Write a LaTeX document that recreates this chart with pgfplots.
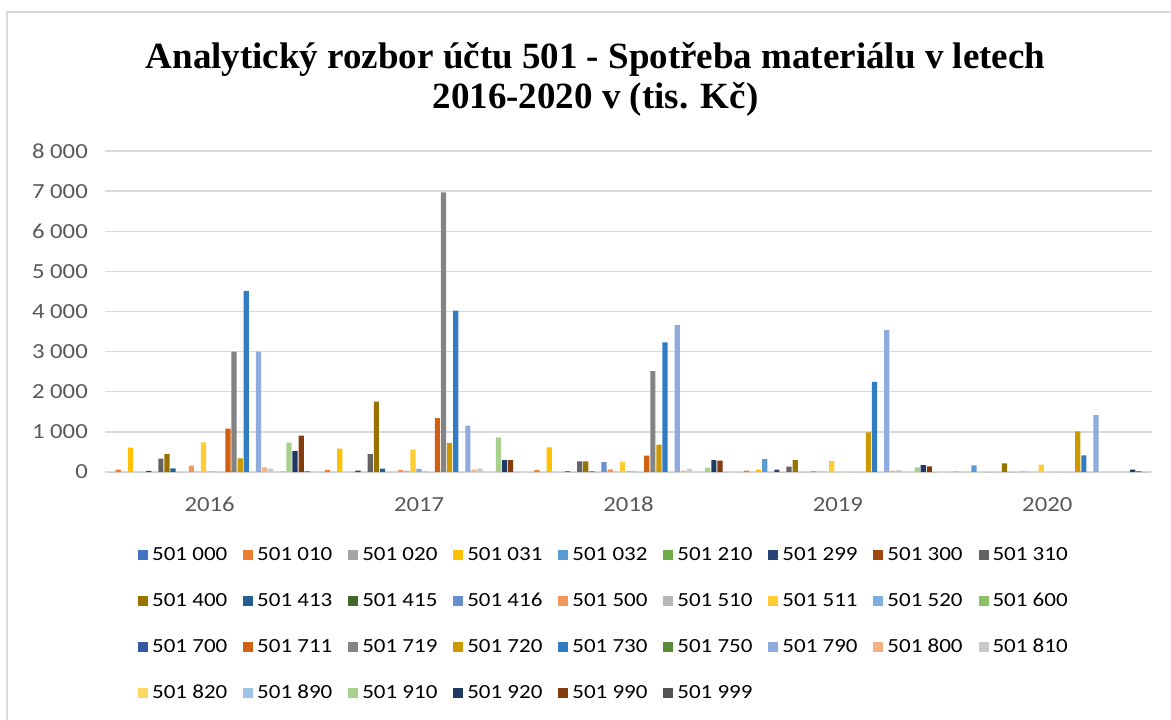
\documentclass[border=0pt]{standalone}
\usepackage{pgfplots}
\pgfplotsset{compat=1.18}
\usepackage{fontspec}
\setmainfont{Carlito}[FakeStretch=1.15]
\newfontfamily\titlefont{Liberation Serif}
\definecolor{gridc}{HTML}{D9D9D9}
\definecolor{labc}{HTML}{595959}
\definecolor{c00}{HTML}{4472C4}\definecolor{c01}{HTML}{ED7D31}\definecolor{c02}{HTML}{A5A5A5}
\definecolor{c03}{HTML}{FFC000}\definecolor{c04}{HTML}{5B9BD5}\definecolor{c05}{HTML}{70AD47}
\definecolor{c06}{HTML}{264478}\definecolor{c07}{HTML}{9E480E}\definecolor{c08}{HTML}{636363}
\definecolor{c09}{HTML}{997300}\definecolor{c10}{HTML}{255E91}\definecolor{c11}{HTML}{43682B}
\definecolor{c12}{HTML}{698ED0}\definecolor{c13}{HTML}{F1975A}\definecolor{c14}{HTML}{B7B7B7}
\definecolor{c15}{HTML}{FFCD33}\definecolor{c16}{HTML}{7CAFDD}\definecolor{c17}{HTML}{8CC168}
\definecolor{c18}{HTML}{335AA1}\definecolor{c19}{HTML}{D26012}\definecolor{c20}{HTML}{848484}
\definecolor{c21}{HTML}{CC9A00}\definecolor{c22}{HTML}{327DC2}\definecolor{c23}{HTML}{5A8A39}
\definecolor{c24}{HTML}{8FAADC}\definecolor{c25}{HTML}{F4B183}\definecolor{c26}{HTML}{C9C9C9}
\definecolor{c27}{HTML}{FFD966}\definecolor{c28}{HTML}{9DC3E6}\definecolor{c29}{HTML}{A9D18E}
\definecolor{c30}{HTML}{203864}\definecolor{c31}{HTML}{843C0C}\definecolor{c32}{HTML}{525252}
\pgfplotsset{sq/.style={fill=#1, draw=none, legend image code/.code={\fill[#1] (0pt,-5pt) rectangle (10pt,5pt);}}}
\begin{document}
\begin{tikzpicture}
\useasboundingbox (0pt,0pt) rectangle (1171pt,-720pt);
\fill[white] (0pt,0pt) rectangle (1171pt,-720pt);
\draw[gridc, line width=1.5pt] (7pt,-720pt) -- (7pt,-12pt) -- (1171pt,-12pt);
\node[align=center, font=\titlefont\bfseries\fontsize{37}{40}\selectfont, anchor=center] at (595.5pt,-79pt)
  {Analytický rozbor účtu 501 - Spotřeba materiálu v letech\\2016-2020 v (tis. Kč)};
\begin{axis}[
  at={(105pt,-472pt)}, anchor=south west,
  scale only axis, width=1047pt, height=321pt,
  xmin=-0.5, xmax=4.5, ymin=0, ymax=8000,
  ybar=0.9pt, bar width=5.2pt,
  xtick={0,1,2,3,4}, xticklabels={2016,2017,2018,2019,2020},
  ytick={0,1000,...,8000},
  yticklabels={0,{1 000},{2 000},{3 000},{4 000},{5 000},{6 000},{7 000},{8 000}},
  major tick length=0pt,
  axis line style={draw=none},
  ymajorgrids, grid style={draw=gridc, line width=1.4pt},
  tick label style={font=\fontsize{21.5}{25}\selectfont, color=labc},
  yticklabel style={anchor=east, inner sep=0pt, xshift=-17pt},
  xticklabel style={anchor=north, inner sep=0pt, yshift=-25pt},
  legend columns=9,
  legend cell align=left,
  legend style={at={(0.0315,-0.2305)}, anchor=north west, draw=none, fill=none,
    inner sep=0pt, font=\fontsize{20}{24}\selectfont, text=black, row sep=28pt,
    nodes={inner sep=0pt, text height=14pt, text depth=4pt},
    /tikz/every odd column/.append style={column sep=4pt},
    /tikz/every even column/.append style={column sep=15.9pt}},
]
\addplot[sq=c00] coordinates {(0,0)(1,0)(2,0)(3,0)(4,0)};
\addplot[sq=c01] coordinates {(0,60)(1,50)(2,50)(3,33)(4,10)};
\addplot[sq=c02] coordinates {(0,0)(1,0)(2,0)(3,0)(4,0)};
\addplot[sq=c03] coordinates {(0,606)(1,581)(2,614)(3,58)(4,0)};
\addplot[sq=c04] coordinates {(0,0)(1,0)(2,0)(3,324)(4,166)};
\addplot[sq=c05] coordinates {(0,0)(1,0)(2,0)(3,0)(4,0)};
\addplot[sq=c06] coordinates {(0,30)(1,33)(2,17)(3,58)(4,0)};
\addplot[sq=c07] coordinates {(0,0)(1,0)(2,0)(3,0)(4,0)};
\addplot[sq=c08] coordinates {(0,332)(1,448)(2,266)(3,133)(4,0)};
\addplot[sq=c09] coordinates {(0,448)(1,1751)(2,266)(3,299)(4,216)};
\addplot[sq=c10] coordinates {(0,91)(1,83)(2,17)(3,0)(4,0)};
\addplot[sq=c11] coordinates {(0,0)(1,0)(2,0)(3,0)(4,0)};
\addplot[sq=c12] coordinates {(0,0)(1,0)(2,249)(3,17)(4,10)};
\addplot[sq=c13] coordinates {(0,158)(1,50)(2,66)(3,10)(4,0)};
\addplot[sq=c14] coordinates {(0,10)(1,33)(2,10)(3,0)(4,0)};
\addplot[sq=c15] coordinates {(0,739)(1,556)(2,257)(3,274)(4,183)};
\addplot[sq=c16] coordinates {(0,10)(1,75)(2,15)(3,0)(4,0)};
\addplot[sq=c17] coordinates {(0,10)(1,10)(2,10)(3,0)(4,0)};
\addplot[sq=c18] coordinates {(0,0)(1,0)(2,0)(3,0)(4,0)};
\addplot[sq=c19] coordinates {(0,1079)(1,1344)(2,407)(3,0)(4,0)};
\addplot[sq=c20] coordinates {(0,3000)(1,6971)(2,2515)(3,0)(4,0)};
\addplot[sq=c21] coordinates {(0,340)(1,722)(2,680)(3,988)(4,1012)};
\addplot[sq=c22] coordinates {(0,4515)(1,4025)(2,3228)(3,2249)(4,415)};
\addplot[sq=c23] coordinates {(0,0)(1,0)(2,0)(3,0)(4,0)};
\addplot[sq=c24] coordinates {(0,3000)(1,1154)(2,3660)(3,3535)(4,1419)};
\addplot[sq=c25] coordinates {(0,116)(1,58)(2,33)(3,33)(4,0)};
\addplot[sq=c26] coordinates {(0,83)(1,83)(2,75)(3,50)(4,0)};
\addplot[sq=c27] coordinates {(0,0)(1,0)(2,0)(3,0)(4,0)};
\addplot[sq=c28] coordinates {(0,15)(1,0)(2,0)(3,0)(4,0)};
\addplot[sq=c29] coordinates {(0,730)(1,863)(2,108)(3,116)(4,10)};
\addplot[sq=c30] coordinates {(0,523)(1,299)(2,299)(3,174)(4,58)};
\addplot[sq=c31] coordinates {(0,905)(1,299)(2,282)(3,141)(4,17)};
\addplot[sq=c32] coordinates {(0,15)(1,0)(2,0)(3,0)(4,0)};
\legend{501 000,501 010,501 020,501 031,501 032,501 210,501 299,501 300,501 310,
501 400,501 413,501 415,501 416,501 500,501 510,501 511,501 520,501 600,
501 700,501 711,501 719,501 720,501 730,501 750,501 790,501 800,501 810,
501 820,501 890,501 910,501 920,501 990,501 999}
\end{axis}
\end{tikzpicture}
\end{document}
